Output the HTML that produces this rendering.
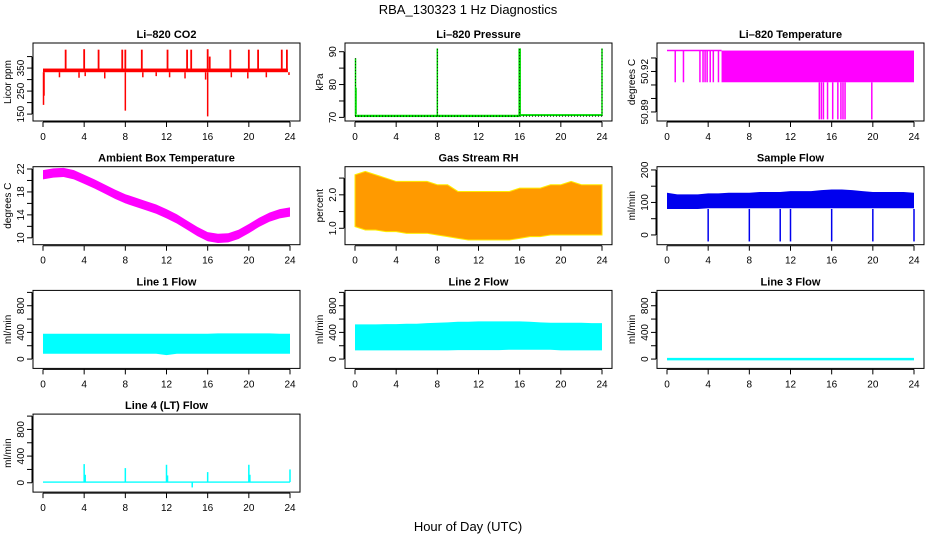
<!DOCTYPE html>
<html><head><meta charset="utf-8"><style>
body{margin:0;background:#fff}
svg{display:block;font-family:"Liberation Sans",sans-serif}
</style></head><body>
<svg id="c" width="936" height="540" viewBox="0 0 936 540">
<text x="468" y="14" text-anchor="middle" font-size="13">RBA_130323  1 Hz Diagnostics</text>
<text x="468" y="531" text-anchor="middle" font-size="13">Hour of Day (UTC)</text>
</svg>
<script>
// ---- data arrays ----
const hours = [0,1,2,3,4,5,6,7,8,9,10,11,12,13,14,15,16,17,18,19,20,21,22,23,24];
const xTicks = [0,4,8,12,16,20,24];
// CO2
const co2Lo = 332, co2Hi = 348;
const co2UpX = [2.2,4,5.4,7.7,8,9.6,12.1,14,14.4,16,16.2,18.2,20,20.9,23.2,23.7];
const co2UpY = [430,432,430,430,430,430,430,430,430,432,400,430,430,430,430,430];
const co2DnX = [0.05,0.1,8,16,1.6,3.5,4.1,6,9.7,11,12.3,13.8,15.8,18.3,19.9,21.7,23.9];
const co2DnY = [190,230,165,140,310,308,315,305,310,315,310,305,300,310,305,310,320];
// Pressure
const presX = [0.05,8,16,24];
const presTop = [88,91,91,91];
const presBaseBefore = [70.1,70.8], presBaseAfter = [70.4,71.0];
// Li-820 temperature
const tempHi = 50.9355, tempMid = 50.912, tempLow = 50.8845;
const tempDropX = [0.8,1.6,3.2,3.5,3.7,3.9,4.2,4.5,5.0];
const tempBandStart = 5.3;
const tempLowX = [14.8,15.0,15.2,15.6,16.1,16.6,16.9,17.1,17.3,19.9];
// Ambient temperature (per hour center)
const ambMid = [21.0,21.3,21.4,21.0,20.2,19.4,18.5,17.6,16.8,16.2,15.6,15.0,14.2,13.3,12.2,11.1,10.2,9.9,10.0,10.6,11.6,12.7,13.6,14.2,14.5];
const ambHalf = 0.8;
// Gas stream RH
const rhHi = [2.6,2.7,2.6,2.5,2.4,2.4,2.4,2.4,2.3,2.3,2.1,2.1,2.1,2.1,2.1,2.1,2.2,2.2,2.2,2.3,2.3,2.4,2.3,2.3,2.3];
const rhLo = [1.05,0.95,0.95,0.9,0.9,0.85,0.85,0.85,0.8,0.75,0.7,0.65,0.65,0.65,0.65,0.65,0.7,0.75,0.75,0.8,0.8,0.8,0.8,0.8,0.8];
// Sample flow
const sfHi = [130,125,125,125,128,128,130,130,130,132,132,132,135,135,135,138,140,140,138,135,132,132,132,132,130];
const sfLo = [80,80,80,80,82,82,82,82,82,82,82,82,82,82,82,82,82,82,82,82,82,82,82,82,82];
const sfDipX = [4,8,11,12,16,20,24];
const sfDipY = [-20,-20,-20,-20,-20,-20,-20];
// Line 1 flow
const l1Hi = [380,380,380,380,380,380,380,380,380,380,380,380,380,380,380,380,380,385,385,385,385,385,385,380,380];
const l1Lo = [80,80,80,80,80,80,80,80,80,80,80,80,60,80,80,80,80,80,80,80,80,80,80,80,80];
// Line 2 flow
const l2Hi = [520,520,520,525,525,530,530,540,545,550,560,560,565,565,565,565,565,560,550,545,545,545,545,540,540];
const l2Lo = [130,130,130,130,130,130,130,130,130,130,135,135,135,135,135,140,140,140,140,140,130,130,130,130,130];
// Line 3 flow
const l3Val = 0;
// Line 4 flow
const l4Base = [0,20];
const l4SpikeX = [4,4.1,8,12,12.1,14.5,16,20,20.1,24];
const l4SpikeY = [280,120,220,270,110,-70,160,270,120,200];

const yTicksCO2=[150,200,250,300,350,400], yLabCO2=["150","","250","","350",""];
const yTicksP=[70,75,80,85,90], yLabP=["70","","80","","90"];
const yTicksT=[50.89,50.90,50.91,50.92,50.93], yLabT=["50.89","","","50.92",""];
const yTicksA=[10,12,14,16,18,20,22], yLabA=["10","","14","","18","","22"];
const yTicksRH=[1.0,1.5,2.0,2.5], yLabRH=["1.0","","2.0",""];
const yTicksSF=[0,50,100,150,200], yLabSF=["0","","100","","200"];
const yTicksF=[0,200,400,600,800,1000], yLabF=["0","","400","","800",""];

const NS="http://www.w3.org/2000/svg";
const svg=document.getElementById('c');
function mk(t,a,p){const e=document.createElementNS(NS,t);for(const k in a)e.setAttribute(k,a[k]);(p||svg).appendChild(e);return e;}

function panel(col,row,title,ylab,dom,yt,yl,name){
  const x0=33+312*col, y0=43+123.7*row, w=267, h=78;
  const g=mk('g',{});
  
  
  const X=v=>x0+10+v/24*247;
  const Y=v=>y0+h-(v-dom[0])/(dom[1]-dom[0])*h;
  const t=mk('text',{x:x0+w/2,y:y0-5,'text-anchor':'middle','font-size':11,'font-weight':'bold'},g);
  t.textContent=title;
  
  
  const xa=mk('g',{},g);
  
  
  mk('line',{x1:X(0),x2:X(24),y1:y0+h+1,y2:y0+h+1,stroke:'#000'},xa);
  xTicks.forEach(v=>{mk('line',{x1:X(v),x2:X(v),y1:y0+h+1,y2:y0+h+6,stroke:'#000'},xa);
    const l=mk('text',{x:X(v),y:y0+h+19,'text-anchor':'middle','font-size':10},xa);l.textContent=v;});
  const ya=mk('g',{},g);
  
  
  mk('line',{x1:x0-1,x2:x0-1,y1:Y(yt[0]),y2:Y(yt[yt.length-1]),stroke:'#000'},ya);
  yt.forEach((v,i)=>{mk('line',{x1:x0-6,x2:x0-1,y1:Y(v),y2:Y(v),stroke:'#000'},ya);
    if(yl[i]){const l=mk('text',{x:x0-9,y:Y(v),'text-anchor':'middle','font-size':10,transform:`rotate(-90 ${x0-9} ${Y(v)})`},ya);l.textContent=yl[i];}});
  const yt2=mk('text',{x:x0-22,y:y0+h/2,'text-anchor':'middle','font-size':10,transform:`rotate(-90 ${x0-22} ${y0+h/2})`},g);
  yt2.textContent=ylab;
  
  
  const box=mk('rect',{x:x0,y:y0,width:w,height:h,fill:'none',stroke:'#000'},g);
  
  
  const s=mk('g',{},g);
  
  
  return {X,Y,s};
}
function band(p,lo,hi,fill,stroke){
  let d='M'+hours.map((hh,i)=>p.X(hh)+','+p.Y(hi[i])).join('L');
  d+='L'+hours.slice().reverse().map((hh,j)=>p.X(hh)+','+p.Y(lo[hours.length-1-j])).join('L')+'Z';
  return mk('path',{d,fill,stroke:stroke||'none'},p.s);
}
function vseg(p,x,a,b,c,w){return mk('line',{x1:p.X(x),x2:p.X(x),y1:p.Y(a),y2:p.Y(b),stroke:c,'stroke-width':w||1.5},p.s);}

let p=panel(0,0,'Li\u2013820 CO2','Licor ppm',[120,459],yTicksCO2,yLabCO2,'co2');
mk('rect',{x:p.X(0),y:p.Y(co2Hi),width:p.X(23.8)-p.X(0),height:p.Y(co2Lo)-p.Y(co2Hi),fill:'red'},p.s);
co2UpX.forEach((x,i)=>vseg(p,x,co2Hi,co2UpY[i],'red',1.8));
co2DnX.forEach((x,i)=>vseg(p,x,co2Lo,co2DnY[i],'red',1.5));

p=panel(1,0,'Li\u2013820 Pressure','kPa',[68.9,92.65],yTicksP,yLabP,'pressure');
mk('rect',{x:p.X(0),y:p.Y(presBaseBefore[1]),width:p.X(16)-p.X(0),height:p.Y(presBaseBefore[0])-p.Y(presBaseBefore[1]),fill:'#00dd00'},p.s);
mk('rect',{x:p.X(16),y:p.Y(presBaseAfter[1]),width:p.X(24)-p.X(16),height:p.Y(presBaseAfter[0])-p.Y(presBaseAfter[1]),fill:'#00dd00'},p.s);
mk('line',{x1:p.X(0),x2:p.X(24),y1:p.Y(70.4),y2:p.Y(70.4),stroke:'#000','stroke-dasharray':'1,2'},p.s);
presX.forEach((x,i)=>{vseg(p,x,70.4,presTop[i],'#00dd00',i==2?2.5:1.5);mk('line',{x1:p.X(x),x2:p.X(x),y1:p.Y(70.4),y2:p.Y(presTop[i]),stroke:'#000','stroke-width':0.8,'stroke-dasharray':'1,2'},p.s);});
vseg(p,0.1,71,79,'#00dd00',1.5);

p=panel(2,0,'Li\u2013820 Temperature','degrees C',[50.8833,50.9411],yTicksT,yLabT,'li820-temp');
mk('line',{x1:p.X(0),x2:p.X(tempBandStart),y1:p.Y(tempHi),y2:p.Y(tempHi),stroke:'magenta','stroke-width':1.5},p.s);
tempDropX.forEach(x=>vseg(p,x,tempHi,tempMid,'magenta',1.5));
mk('rect',{x:p.X(tempBandStart),y:p.Y(tempHi),width:p.X(24)-p.X(tempBandStart),height:p.Y(tempMid)-p.Y(tempHi),fill:'magenta'},p.s);
tempLowX.forEach(x=>vseg(p,x,tempMid,tempLow,'magenta',1.5));

p=panel(0,1,'Ambient Box Temperature','degrees C',[8.8,22.4],yTicksA,yLabA,'ambient-temp');
band(p,ambMid.map(v=>v-ambHalf),ambMid.map(v=>v+ambHalf),'magenta');

p=panel(1,1,'Gas Stream RH','percent',[0.51,2.84],yTicksRH,yLabRH,'gas-rh');
band(p,rhLo,rhHi,'#ff9a00','#ffee00');

p=panel(2,1,'Sample Flow','ml/min',[-30,210],yTicksSF,yLabSF,'sample-flow');
band(p,sfLo,sfHi,'#0000ee');
sfDipX.forEach((x,i)=>vseg(p,x,sfLo[0],sfDipY[i],'#0000ee',1.5));

p=panel(0,2,'Line 1 Flow','ml/min',[-140,1030],yTicksF,yLabF,'line1-flow');
band(p,l1Lo,l1Hi,'cyan');

p=panel(1,2,'Line 2 Flow','ml/min',[-140,1030],yTicksF,yLabF,'line2-flow');
band(p,l2Lo,l2Hi,'cyan');

p=panel(2,2,'Line 3 Flow','ml/min',[-140,1030],yTicksF,yLabF,'line3-flow');
mk('line',{x1:p.X(0),x2:p.X(24),y1:p.Y(l3Val),y2:p.Y(l3Val),stroke:'cyan','stroke-width':2.5},p.s);

p=panel(0,3,'Line 4 (LT) Flow','ml/min',[-140,1030],yTicksF,yLabF,'line4-flow');
mk('rect',{x:p.X(0),y:p.Y(l4Base[1]),width:p.X(24)-p.X(0),height:p.Y(l4Base[0])-p.Y(l4Base[1]),fill:'cyan'},p.s);
l4SpikeX.forEach((x,i)=>vseg(p,x,10,l4SpikeY[i],'cyan',1.5));
</script>
</body></html>
